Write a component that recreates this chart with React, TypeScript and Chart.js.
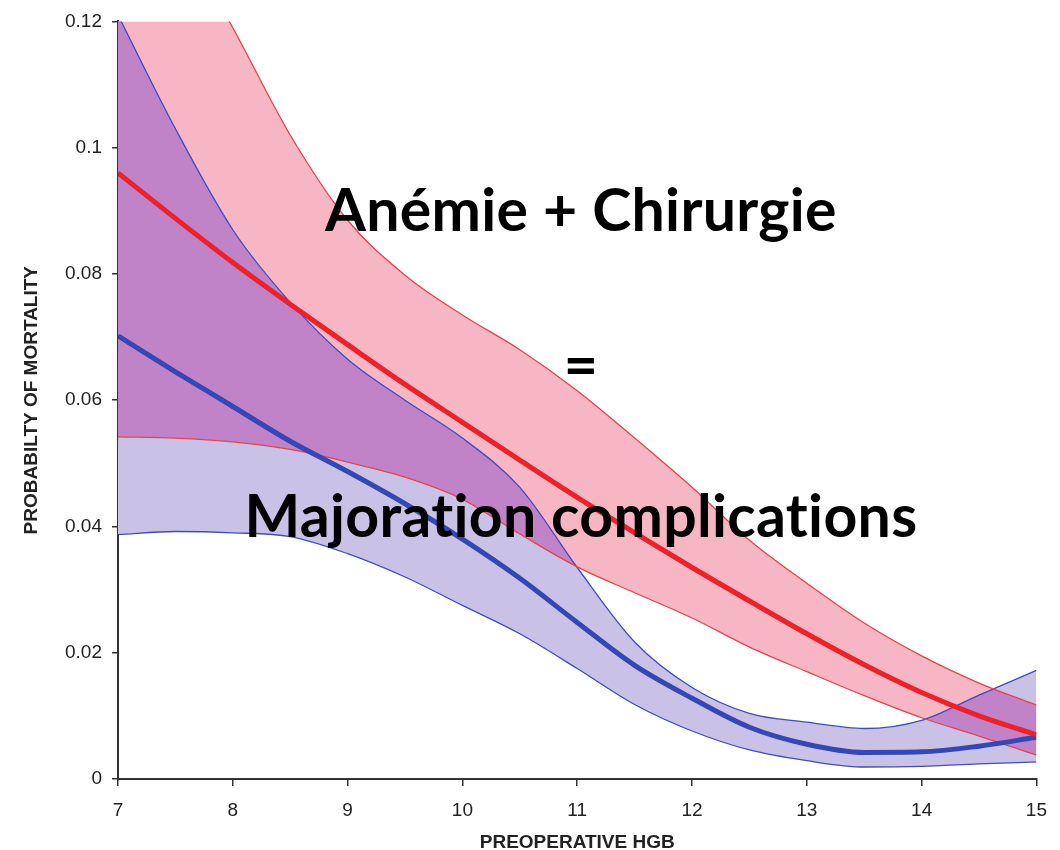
import React, { useEffect, useRef } from "react";
import { Chart, registerables } from "chart.js";

Chart.register(...registerables);

// ---- data ----
const hgb = [7, 7.5, 8, 8.5, 9, 9.5, 10, 10.5, 11, 11.5, 12, 12.5, 13, 13.5, 14, 14.5, 15];
const redMean = [0.096, 0.0888, 0.0818, 0.0752, 0.0688, 0.0625, 0.0565, 0.0505, 0.0446, 0.039, 0.0335, 0.0282, 0.023, 0.0181, 0.0137, 0.01, 0.007];
const redUpper = [0.15, 0.135, 0.119, 0.102, 0.0885, 0.0798, 0.0735, 0.068, 0.0615, 0.054, 0.0462, 0.0378, 0.031, 0.0247, 0.0195, 0.0152, 0.0117];
const redLower = [0.0542, 0.054, 0.0534, 0.0522, 0.0502, 0.0478, 0.0443, 0.0388, 0.0336, 0.0295, 0.0255, 0.0209, 0.017, 0.0132, 0.0097, 0.0068, 0.0038];
const blueMean = [0.0702, 0.0645, 0.059, 0.0535, 0.0487, 0.0436, 0.038, 0.0318, 0.0248, 0.018, 0.0128, 0.0082, 0.0055, 0.0042, 0.0043, 0.0052, 0.0066];
const blueUpper = [0.121, 0.103, 0.087, 0.0755, 0.0665, 0.06, 0.054, 0.0462, 0.0335, 0.0217, 0.0145, 0.0104, 0.009, 0.008, 0.0093, 0.0133, 0.0172];
const blueLower = [0.0387, 0.0392, 0.039, 0.0384, 0.0357, 0.032, 0.0275, 0.023, 0.0175, 0.0118, 0.0076, 0.0046, 0.0029, 0.0019, 0.002, 0.0024, 0.0027];

const yTicks = [0, 0.02, 0.04, 0.06, 0.08, 0.1, 0.12];
const yTickLabels = ["0", "0.02", "0.04", "0.06", "0.08", "0.1", "0.12"];

const yTitle = "PROBABILTY OF MORTALITY";
const xTitle = "PREOPERATIVE HGB";
const overlayLines = ["Anémie + Chirurgie", "=", "Majoration complications"];

// ---- styles ----
const PINK = "#f6b6c4";
const LAVENDER = "#cac2e6";
const PURPLE = "#c083c8";
const RED_THICK = "#ee2028";
const RED_THIN = "#e8424a";
const BLUE_THICK = "#3447b5";
const BLUE_THIN = "#3f4cc0";

const pts = (ys: number[]) => hgb.map((x, i) => ({ x, y: ys[i] }));

function trace(ctx: CanvasRenderingContext2D, points: any[], reverse: boolean, move: boolean) {
  const p = reverse ? [...points].reverse() : points;
  p.forEach((pt: any, i: number) => {
    if (i === 0) {
      if (move) ctx.moveTo(pt.x, pt.y);
      else ctx.lineTo(pt.x, pt.y);
      return;
    }
    const prev = p[i - 1];
    if (!reverse) ctx.bezierCurveTo(prev.cp2x, prev.cp2y, pt.cp1x, pt.cp1y, pt.x, pt.y);
    else ctx.bezierCurveTo(prev.cp1x, prev.cp1y, pt.cp2x, pt.cp2y, pt.x, pt.y);
  });
}

const overlapPlugin = {
  id: "overlapFill",
  beforeDatasetsDraw(chart: any) {
    const ctx = chart.ctx as CanvasRenderingContext2D;
    const a = chart.chartArea;
    const ru = chart.getDatasetMeta(2).data;
    const rl = chart.getDatasetMeta(3).data;
    const bu = chart.getDatasetMeta(4).data;
    const bl = chart.getDatasetMeta(5).data;
    ctx.save();
    ctx.beginPath();
    ctx.rect(a.left, a.top, a.right - a.left, a.bottom - a.top);
    ctx.clip();
    ctx.beginPath();
    trace(ctx, ru, false, true);
    trace(ctx, rl, true, false);
    ctx.closePath();
    ctx.clip();
    ctx.beginPath();
    trace(ctx, bu, false, true);
    trace(ctx, bl, true, false);
    ctx.closePath();
    ctx.fillStyle = PURPLE;
    ctx.fill();
    ctx.restore();
  },
  afterDatasetsDraw(chart: any) {
    const ctx = chart.ctx as any;
    const a = chart.chartArea;
    const cx = a.left + (a.right - a.left) * 0.504;
    ctx.save();
    ctx.fillStyle = "#000";
    ctx.textAlign = "center";
    ctx.textBaseline = "alphabetic";
    ctx.font = "bold 59px Lato";
    try {
      ctx.textRendering = "optimizeSpeed";
      ctx.letterSpacing = "0.3px";
    } catch (e) {}
    ctx.fillText(overlayLines[0], cx, 231);
    ctx.fillText(overlayLines[1], cx, 386);
    ctx.fillText(overlayLines[2], cx, 537);
    ctx.restore();
  },
};

export default function App() {
  const ref = useRef<HTMLCanvasElement | null>(null);
  useEffect(() => {
    document.body.style.margin = "0";
    if (!ref.current) return;
    const tickFont = { family: "'Liberation Sans', Arial, sans-serif", size: 19 };
    const titleFont = { family: "'Liberation Sans', Arial, sans-serif", size: 19, weight: "bold" as const, lineHeight: 0.75 };
    const line = (label: string, data: number[], color: string, width: number, fill: any, bg?: string) => ({
      label,
      data: pts(data),
      borderColor: color,
      borderWidth: width,
      backgroundColor: bg || "transparent",
      fill,
      pointRadius: 0,
      cubicInterpolationMode: "monotone" as const,
    });
    const chart = new Chart(ref.current, {
      type: "line",
      data: {
        datasets: [
          line("Red mean", redMean, RED_THICK, 5, false),
          line("Blue mean", blueMean, BLUE_THICK, 5, false),
          line("Red upper", redUpper, RED_THIN, 1.3, 3, PINK),
          line("Red lower", redLower, RED_THIN, 1.3, false),
          line("Blue upper", blueUpper, BLUE_THIN, 1.3, 5, LAVENDER),
          line("Blue lower", blueLower, BLUE_THIN, 1.3, false),
        ] as any,
      },
      options: {
        responsive: false,
        animation: false,
        devicePixelRatio: 1,
        layout: { padding: { top: 16, right: 18, left: 0, bottom: 0 } },
        plugins: {
          legend: { display: false },
          tooltip: { enabled: false },
          filler: { drawTime: "beforeDatasetsDraw" },
        } as any,
        scales: {
          x: {
            type: "linear",
            min: 7,
            max: 15,
            afterFit: (s: any) => {
              s.height = 71;
            },
            ticks: { stepSize: 1, color: "#222", font: tickFont, padding: 13 },
            grid: { drawOnChartArea: false, drawTicks: true, tickLength: 7, color: "#333", lineWidth: 1.5 },
            border: { display: true, color: "#333", width: 2 },
            title: { display: true, text: xTitle, color: "#222", font: titleFont, padding: { top: 0, bottom: 0 } },
          },
          y: {
            type: "linear",
            min: 0,
            max: 0.12,
            afterFit: (s: any) => {
              s.width = 118;
            },
            afterBuildTicks: (s: any) => {
              s.ticks = yTicks.map((v) => ({ value: v }));
            },
            ticks: {
              color: "#222",
              font: tickFont,
              padding: 10,
              callback: (_v: any, i: number) => yTickLabels[i],
            },
            grid: { drawOnChartArea: false, drawTicks: true, tickLength: 6, color: "#333", lineWidth: 1.5 },
            border: { display: true, color: "#333", width: 2 },
            title: { display: true, text: yTitle, color: "#222", font: titleFont, padding: { top: 25, bottom: 0 } },
          },
        },
      },
      plugins: [overlapPlugin],
    });
    return () => chart.destroy();
  }, []);
  return (
    <div style={{ width: 1060, height: 850, overflow: "hidden", background: "#fff" }}>
      <canvas ref={ref} width={1060} height={850} style={{ display: "block" }} />
    </div>
  );
}
